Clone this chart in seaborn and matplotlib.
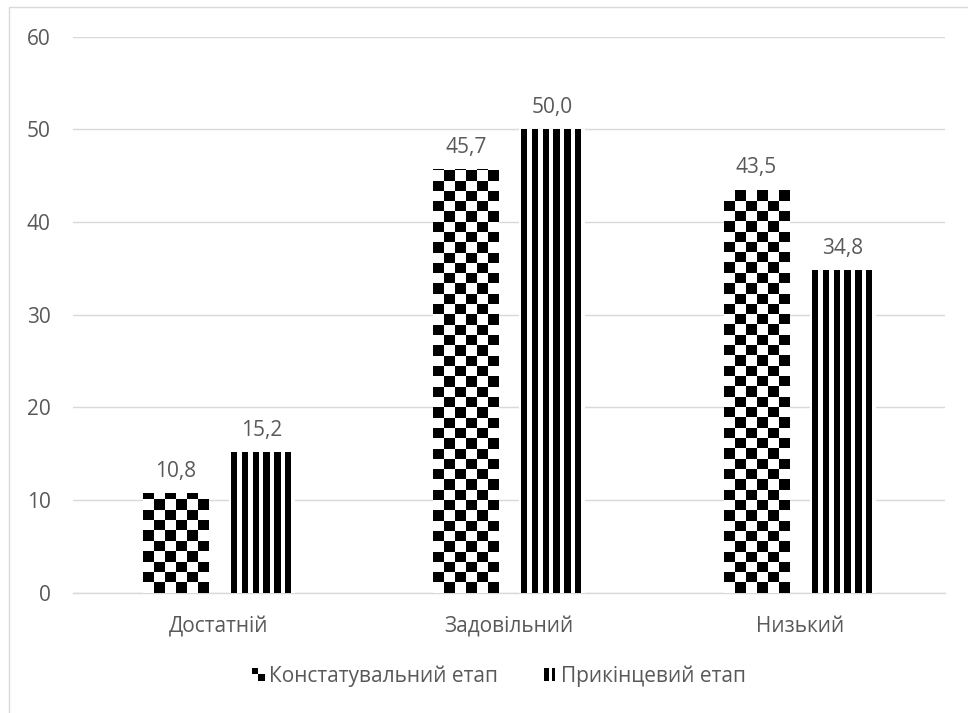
import numpy as np
import pandas as pd
import matplotlib
matplotlib.use("Agg")
import matplotlib.pyplot as plt
import seaborn as sns
from matplotlib.patches import Rectangle
from matplotlib.legend_handler import HandlerBase

categories = ["Достатній", "Задовільний", "Низький"]
series_names = ["Констатувальний етап", "Прикінцевий етап"]
values_const = [10.8, 45.7, 43.5]
values_final = [15.2, 50.0, 34.8]
y_ticks = [0, 10, 20, 30, 40, 50, 60]

df = pd.DataFrame({
    "category": categories * 2,
    "series": [series_names[0]] * 3 + [series_names[1]] * 3,
    "value": values_const + values_final,
})

sns.set_theme(style="white")
plt.rcParams["font.family"] = ["Open Sans", "DejaVu Sans"]
TXT = "#595959"
GRID = "#d9d9d9"
FS = 15

fig = plt.figure(figsize=(9.68, 7.13), dpi=100)
ax = fig.add_axes([73 / 968, 1 - 592.7 / 713, (945 - 73) / 968, (592.7 - 36.7) / 713])

sns.barplot(data=df, x="category", y="value", hue="series", order=categories,
            hue_order=series_names, width=0.593, gap=0.243, ax=ax,
            palette=["white", "white"], edgecolor="none", linewidth=0,
            legend=False, errorbar=None)

ax.set_xlim(-0.5, 2.5)
ax.set_ylim(0, 60)
ax.set_yticks(y_ticks)
ax.yaxis.grid(True, color=GRID, linewidth=1.0)
ax.set_axisbelow(True)
for s in ["left", "right", "top"]:
    ax.spines[s].set_visible(False)
ax.spines["bottom"].set_color(GRID)
ax.spines["bottom"].set_linewidth(1.0)
ax.tick_params(axis="both", length=0, labelsize=FS, labelcolor=TXT)
ax.tick_params(axis="y", pad=16)
ax.tick_params(axis="x", pad=17)
ax.set_xlabel("")
ax.set_ylabel("")

fig.canvas.draw()

def texture(patch, kind):
    x0, y0 = patch.get_x(), patch.get_y()
    w, h = patch.get_width(), patch.get_height()
    p0 = ax.transData.transform((x0, y0))
    p1 = ax.transData.transform((x0 + w, y0 + h))
    wpx = max(int(round(abs(p1[0] - p0[0]) * 4)), 1)
    hpx = max(int(round(abs(p1[1] - p0[1]) * 4)), 1)
    jj, ii = np.meshgrid(np.arange(wpx) / 4.0, np.arange(hpx) / 4.0)
    if kind == "checker":
        arr = ((np.floor(jj / 10.8) + np.floor(ii / 10.3)) % 2).astype(float)
    else:
        period = 10.8
        arr = (((jj - 1.5) % period) < 6.2).astype(float)
    im = ax.imshow(arr, extent=[x0, x0 + w, y0, y0 + h], origin="lower",
                   cmap="gray_r", vmin=0, vmax=1, interpolation="nearest",
                   aspect="auto", zorder=3)
    im.set_clip_path(patch)

for patch in ax.containers[0]:
    texture(patch, "checker")
for patch in ax.containers[1]:
    texture(patch, "stripes")

ax.set_xlim(-0.5, 2.5)
ax.set_ylim(0, 60)

for cont in ax.containers:
    ax.bar_label(cont, labels=[f"{v:.1f}".replace(".", ",") for v in cont.datavalues],
                 padding=8, fontsize=FS, color=TXT)

MS = 13.0 * 72 / 100


class CheckerHandler(HandlerBase):
    def create_artists(self, legend, orig_handle, xdescent, ydescent, width, height, fontsize, trans):
        s = MS
        x = width - s - xdescent
        y = -ydescent + (height - s) / 2
        return [Rectangle((x, y + s / 2), s / 2, s / 2, fc="black", ec="none", transform=trans),
                Rectangle((x + s / 2, y), s / 2, s / 2, fc="black", ec="none", transform=trans)]


class StripeHandler(HandlerBase):
    def create_artists(self, legend, orig_handle, xdescent, ydescent, width, height, fontsize, trans):
        s = MS
        x = width - s - xdescent
        y = -ydescent + (height - s) / 2
        return [Rectangle((x, y), s * 0.4, s, fc="black", ec="none", transform=trans),
                Rectangle((x + s * 0.62, y), s * 0.22, s, fc="black", ec="none", transform=trans)]


h1 = Rectangle((0, 0), 1, 1)
h2 = Rectangle((0, 0), 1, 1)
leg = fig.legend([h1, h2], series_names, loc="center", bbox_to_anchor=(0.513, 0.052),
                 ncol=2, frameon=False, fontsize=FS, handlelength=0.85, handletextpad=0.2,
                 columnspacing=2.0,
                 handler_map={h1: CheckerHandler(), h2: StripeHandler()})
for t in leg.get_texts():
    t.set_color(TXT)

fig.patches.append(Rectangle((8.5 / 968, -0.02), 1.0, 1 - 6.5 / 713 + 0.02, fill=False,
                             edgecolor=GRID, linewidth=1.0, transform=fig.transFigure))

fig.savefig("out.png", dpi=100)
